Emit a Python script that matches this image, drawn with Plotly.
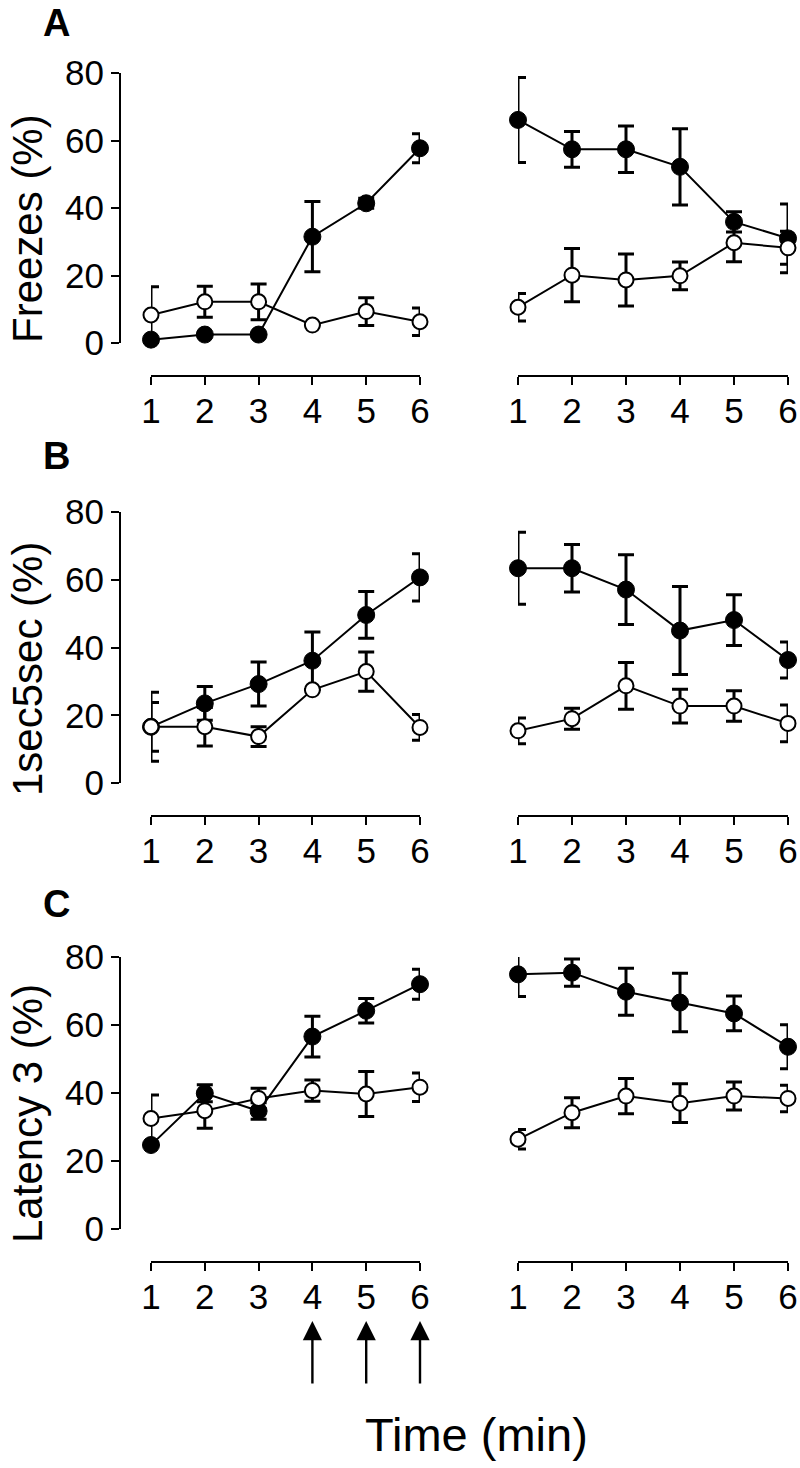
import plotly.graph_objects as go

# ---------------- data ----------------
time_min = [1, 2, 3, 4, 5, 6]
x_tick_labels = ["1", "2", "3", "4", "5", "6"]
y_tick_values = [0, 20, 40, 60, 80]
y_tick_labels = ["0", "20", "40", "60", "80"]

panel_letters = ["A", "B", "C"]
y_titles = ["Freezes (%)", "1sec5sec (%)", "Latency 3 (%)"]
x_title = "Time (min)"
arrow_minutes = [4, 5, 6]

# Panel A - Freezes
freezes_left_filled = [1.0, 2.5, 2.5, 31.5, 41.4, 57.7]
freezes_left_filled_err = [None, None, None, 10.4, 1.5, 4.3]
freezes_left_open = [8.3, 12.2, 12.2, 5.3, 9.3, 6.3]
freezes_left_open_err = [8.4, 4.6, 5.3, None, 4.1, 4.1]
freezes_right_filled = [66.1, 57.4, 57.4, 52.2, 35.9, 31.0]
freezes_right_filled_err = [12.6, 5.3, 6.9, 11.3, 3.0, 10.2]
freezes_right_open = [10.6, 20.1, 18.7, 19.9, 29.7, 28.2]
freezes_right_open_err = [4.1, 7.9, 7.7, 4.1, 5.6, 4.9]

# Panel B - 1sec5sec
onesec_left_filled = [16.6, 23.5, 29.2, 36.1, 49.6, 60.7]
onesec_left_filled_err = [10.2, 5.0, 6.5, 8.5, 6.9, 7.0]
onesec_left_open = [16.6, 16.6, 13.7, 27.5, 32.9, 16.4]
onesec_left_open_err = [7.2, 5.7, 2.9, None, 5.8, 3.8]
onesec_right_filled = [63.4, 63.4, 57.1, 45.0, 48.1, 36.3]
onesec_right_filled_err = [10.6, 7.0, 10.3, 13.0, 7.5, 5.3]
onesec_right_open = [15.4, 19.0, 28.7, 22.7, 22.7, 17.6]
onesec_right_open_err = [3.8, 3.1, 6.9, 5.0, 4.5, 5.4]

# Panel C - Latency 3
latency_left_filled = [24.7, 39.9, 34.7, 56.6, 64.2, 72.0]
latency_left_filled_err = [None, 2.5, 2.4, 6.0, 3.6, 4.4]
latency_left_open = [32.5, 34.8, 38.4, 40.7, 39.7, 41.7]
latency_left_open_err = [6.9, 5.2, 3.0, 3.1, 6.6, 4.2]
latency_right_filled = [74.9, 75.4, 69.8, 66.6, 63.4, 53.6]
latency_right_filled_err = [6.5, 4.0, 6.9, 8.6, 5.1, 6.5]
latency_right_open = [26.4, 34.2, 39.1, 37.0, 39.1, 38.4]
latency_right_open_err = [2.9, 4.4, 5.2, 5.7, 4.1, 3.9]

panels = [
    (freezes_left_filled, freezes_left_filled_err, freezes_left_open, freezes_left_open_err),
    (freezes_right_filled, freezes_right_filled_err, freezes_right_open, freezes_right_open_err),
    (onesec_left_filled, onesec_left_filled_err, onesec_left_open, onesec_left_open_err),
    (onesec_right_filled, onesec_right_filled_err, onesec_right_open, onesec_right_open_err),
    (latency_left_filled, latency_left_filled_err, latency_left_open, latency_left_open_err),
    (latency_right_filled, latency_right_filled_err, latency_right_open, latency_right_open_err),
]

# ---------------- layout geometry (page pixels) ----------------
W, H = 800, 1468
FONT = "Liberation Sans, Arial, sans-serif"


def fx(px):
    return px / W


def fy(px):
    return 1 - px / H


col_x_px = [(151, 420), (518, 788)]
row_y_px = [(73, 343), (512, 783), (957, 1229)]
row_xaxis_px = [376, 816, 1262]
yaxis_x_px = 120

fig = go.Figure()
layout = dict(
    width=W, height=H, autosize=False,
    margin=dict(l=0, r=0, t=0, b=0),
    paper_bgcolor="white", plot_bgcolor="rgba(0,0,0,0)",
    showlegend=False, template="none",
    font=dict(family=FONT, color="black"),
)

for p, (f_vals, f_err, o_vals, o_err) in enumerate(panels):
    r, c = divmod(p, 2)
    n = p + 1
    xa = "x" if n == 1 else f"x{n}"
    ya = "y" if n == 1 else f"y{n}"
    err_style = dict(type="data", symmetric=True, color="black", thickness=3, width=8, visible=True)
    fig.add_trace(go.Scatter(
        x=time_min, y=f_vals, xaxis=xa, yaxis=ya, mode="lines+markers",
        line=dict(color="black", width=2),
        marker=dict(size=17, color="black", line=dict(color="black", width=1)),
        error_y=dict(array=f_err, **err_style), cliponaxis=False,
    ))
    fig.add_trace(go.Scatter(
        x=time_min, y=o_vals, xaxis=xa, yaxis=ya, mode="lines+markers",
        line=dict(color="black", width=2),
        marker=dict(size=15, color="white", line=dict(color="black", width=2)),
        error_y=dict(array=o_err, **err_style), cliponaxis=False,
    ))
    x0, x1 = col_x_px[c]
    ytop, ybot = row_y_px[r]
    xkey = "xaxis" if n == 1 else f"xaxis{n}"
    ykey = "yaxis" if n == 1 else f"yaxis{n}"
    layout[xkey] = dict(
        domain=[fx(x0), fx(x1)], range=[1, 6], anchor="free",
        position=fy(row_xaxis_px[r]),
        showline=True, linecolor="black", linewidth=2,
        ticks="outside", ticklen=8, tickwidth=2, tickcolor="black",
        tickvals=time_min, ticktext=x_tick_labels, ticklabelstandoff=-4,
        tickfont=dict(family=FONT, size=35, color="black"),
        showgrid=False, zeroline=False, automargin=False, fixedrange=True,
    )
    layout[ykey] = dict(
        domain=[fy(ybot), fy(ytop)], range=[0, 80], anchor="free",
        position=fx(yaxis_x_px), visible=(c == 0),
        showline=True, linecolor="black", linewidth=2,
        ticks="outside", ticklen=8, tickwidth=2, tickcolor="black",
        tickvals=y_tick_values, ticktext=y_tick_labels,
        tickfont=dict(family=FONT, size=35, color="black"),
        showgrid=False, zeroline=False, automargin=False, fixedrange=True,
    )

annotations = []
letter_y_px = [23, 456, 904]
title_y_px = [229, 669, 1114]
for r in range(3):
    annotations.append(dict(
        text=f"<b>{panel_letters[r]}</b>", x=fx(57), y=fy(letter_y_px[r]),
        xref="paper", yref="paper", xanchor="center", yanchor="middle",
        showarrow=False, font=dict(family=FONT, size=38, color="black"),
    ))
    annotations.append(dict(
        text=y_titles[r], x=fx(27), y=fy(title_y_px[r]), textangle=-90,
        xref="paper", yref="paper", xanchor="center", yanchor="middle",
        showarrow=False, font=dict(family=FONT, size=42, color="black"),
    ))
annotations.append(dict(
    text=x_title, x=fx(477), y=fy(1434), xref="paper", yref="paper",
    xanchor="center", yanchor="middle", showarrow=False,
    font=dict(family=FONT, size=47, color="black"),
))
for m in arrow_minutes:
    annotations.append(dict(
        text="", x=m, y=fy(1321), xref="x5", yref="paper",
        showarrow=True, ax=0, ay=64, axref="pixel", ayref="pixel",
        arrowhead=2, arrowsize=1.6, arrowwidth=2.4, arrowcolor="black", standoff=0,
    ))
layout["annotations"] = annotations
fig.update_layout(**layout)
fig.write_html(
    "out.html",
    config={"displayModeBar": False, "staticPlot": True},
    post_script="document.body.style.margin='0';document.body.style.overflow='hidden';",
)
